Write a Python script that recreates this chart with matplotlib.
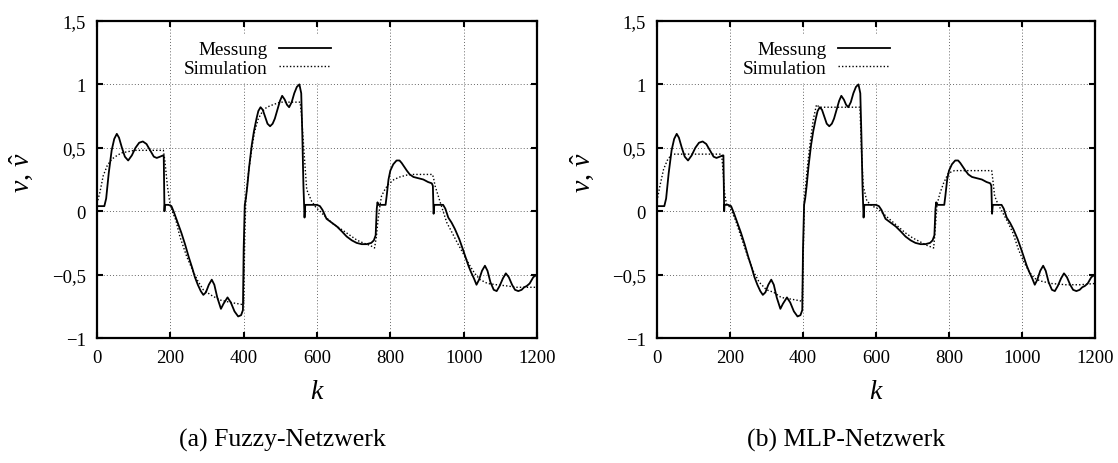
import matplotlib
matplotlib.use("Agg")
import matplotlib.pyplot as plt

plt.rcParams['font.family'] = ['Liberation Serif', 'DejaVu Serif']
plt.rcParams['mathtext.fontset'] = 'custom'
plt.rcParams['mathtext.rm'] = 'Liberation Serif'
plt.rcParams['mathtext.it'] = 'Liberation Serif:italic'

# ---------------- data ----------------
k_meas = [0, 20, 25, 32, 40, 47, 54, 60, 68, 76, 85, 95, 105, 115, 125, 135, 145, 155, 163, 172,
          180, 182, 184, 185, 195, 203, 210, 220, 230, 240, 250, 260, 267, 275, 283, 290, 297, 305,
          313, 320, 328, 338, 345, 356, 365, 375, 385, 393, 398, 400, 403, 406, 410, 415, 422, 428,
          435, 440, 446, 452, 458, 465, 472, 479, 485, 492, 499, 505, 512, 518, 524, 531, 538, 545,
          552, 557, 560, 563, 566, 568, 600, 608, 615, 626, 640, 654, 668, 681, 695, 708, 722, 735,
          748, 755, 760, 763, 765, 767, 787, 790, 795, 800, 808, 817, 825, 831, 838, 845, 853, 863,
          877, 890, 903, 913, 916, 918, 920, 944, 950, 958, 967, 976, 988, 999, 1006, 1013, 1020,
          1028, 1035, 1042, 1050, 1058, 1065, 1073, 1082, 1090, 1098, 1107, 1115, 1123, 1132, 1140,
          1149, 1158, 1165, 1172, 1180, 1190, 1200]
v_meas = [0.04, 0.04, 0.10, 0.30, 0.48, 0.57, 0.61, 0.58, 0.50, 0.43, 0.40, 0.44, 0.50, 0.54, 0.55,
          0.53, 0.48, 0.43, 0.42, 0.43, 0.44, 0.44, 0.0, 0.05, 0.05, 0.04, -0.01, -0.09, -0.17, -0.26,
          -0.36, -0.45, -0.52, -0.58, -0.63, -0.66, -0.64, -0.58, -0.54, -0.58, -0.68, -0.77, -0.73,
          -0.68, -0.72, -0.79, -0.83, -0.82, -0.78, -0.30, 0.05, 0.10, 0.20, 0.35, 0.52, 0.63, 0.73,
          0.79, 0.82, 0.80, 0.75, 0.69, 0.67, 0.69, 0.73, 0.80, 0.87, 0.91, 0.88, 0.84, 0.82, 0.86,
          0.93, 0.98, 1.0, 0.93, 0.60, 0.20, -0.05, 0.05, 0.05, 0.04, 0.01, -0.06, -0.09, -0.12,
          -0.16, -0.20, -0.23, -0.25, -0.26, -0.26, -0.25, -0.23, -0.19, 0.02, 0.07, 0.05, 0.05,
          0.12, 0.25, 0.32, 0.37, 0.40, 0.40, 0.38, 0.35, 0.32, 0.29, 0.27, 0.26, 0.25, 0.23, 0.22,
          0.20, -0.02, 0.05, 0.05, 0.02, -0.05, -0.09, -0.14, -0.22, -0.31, -0.37, -0.43, -0.48,
          -0.53, -0.58, -0.54, -0.47, -0.43, -0.47, -0.56, -0.62, -0.63, -0.59, -0.53, -0.49, -0.52,
          -0.58, -0.62, -0.63, -0.62, -0.60, -0.59, -0.57, -0.52, -0.50]

k_fuzzy = [0, 8, 17, 28, 40, 55, 67, 85, 103, 181, 185, 192, 199, 205, 215, 226, 245, 263, 275,
           290, 310, 335, 365, 395, 400, 403, 406, 412, 422, 430, 440, 452, 463, 480, 500, 554,
           558, 565, 572, 585, 597, 608, 625, 644, 665, 690, 710, 726, 745, 757, 762, 766, 772,
           776, 785, 794, 810, 826, 845, 863, 915, 918, 922, 935, 945, 954, 965, 981, 1000, 1017,
           1030, 1045, 1065, 1090, 1120, 1144, 1170, 1200]
v_fuzzy = [0.06, 0.15, 0.28, 0.36, 0.41, 0.44, 0.46, 0.47, 0.48, 0.48, 0.40, 0.20, 0.06, 0.0,
           -0.07, -0.20, -0.36, -0.48, -0.55, -0.62, -0.66, -0.70, -0.72, -0.735, -0.72, -0.20,
           0.10, 0.28, 0.49, 0.63, 0.73, 0.79, 0.82, 0.84, 0.86, 0.86, 0.75, 0.45, 0.17, 0.08,
           0.03, 0.0, -0.05, -0.10, -0.14, -0.19, -0.23, -0.25, -0.27, -0.29, -0.20, -0.08, 0.05,
           0.12, 0.17, 0.21, 0.25, 0.27, 0.285, 0.29, 0.29, 0.26, 0.20, 0.08, -0.01, -0.09, -0.15,
           -0.24, -0.34, -0.43, -0.49, -0.54, -0.57, -0.58, -0.59, -0.60, -0.60, -0.60]

k_mlp = [0, 8, 18, 28, 40, 177, 180, 185, 190, 200, 215, 230, 250, 265, 280, 300, 320, 340, 360,
         380, 398, 401, 404, 412, 420, 428, 437, 445, 556, 560, 565, 575, 590, 605, 620, 640, 660,
         680, 700, 720, 740, 758, 762, 767, 775, 785, 798, 815, 917, 920, 925, 935, 945, 960, 975,
         990, 1005, 1020, 1035, 1050, 1080, 1120, 1160, 1200]
v_mlp = [0.08, 0.20, 0.33, 0.40, 0.45, 0.45, 0.35, 0.15, 0.06, 0.03, -0.07, -0.20, -0.37, -0.48,
         -0.56, -0.62, -0.64, -0.68, -0.69, -0.70, -0.71, -0.30, 0.10, 0.35, 0.55, 0.72, 0.84,
         0.82, 0.82, 0.50, 0.20, 0.08, 0.04, 0.02, -0.02, -0.07, -0.12, -0.17, -0.21, -0.24,
         -0.27, -0.29, -0.15, 0.05, 0.14, 0.22, 0.30, 0.32, 0.32, 0.25, 0.12, 0.05, 0.0, -0.08,
         -0.17, -0.30, -0.40, -0.48, -0.53, -0.55, -0.57, -0.58, -0.58, -0.57]

x_ticks = [0, 200, 400, 600, 800, 1000, 1200]
x_tick_labels = ['0', '200', '400', '600', '800', '1000', '1200']
y_ticks = [-1, -0.5, 0, 0.5, 1, 1.5]
y_tick_labels = ['\u22121', '\u22120,5', '0', '0,5', '1', '1,5']
series_labels = ['Messung', 'Simulation']
captions = ['(a) Fuzzy-Netzwerk', '(b) MLP-Netzwerk']

# ---------------- figure ----------------
W, H = 1118, 464
fig = plt.figure(figsize=(W / 100, H / 100), dpi=100)

axes_px = [(97, 537), (657, 1095)]
top_px, bot_px = 22, 339
caption_x = [282, 846]
sims = [(k_fuzzy, v_fuzzy), (k_mlp, v_mlp)]

for i, ((x0, x1), (ks, vs)) in enumerate(zip(axes_px, sims)):
    ax = fig.add_axes([x0 / W, 1 - bot_px / H, (x1 - x0) / W, (bot_px - top_px) / H])
    ax.plot(k_meas, v_meas, color='black', lw=1.3, solid_joinstyle='round',
            label=series_labels[0])
    ax.plot(ks, vs, color='black', lw=1.0, linestyle=(0, (1, 1.5)),
            label=series_labels[1])
    ax.set_xlim(0, 1200)
    ax.set_ylim(-1, 1.5)
    ax.set_xticks(x_ticks, x_tick_labels)
    ax.set_yticks(y_ticks, y_tick_labels)
    ax.grid(True, color='0.4', linestyle=(0, (1, 2.2)), linewidth=0.7)
    ax.set_axisbelow(True)
    for s in ax.spines.values():
        s.set_linewidth(1.6)
    ax.tick_params(direction='in', length=4, width=1.5, top=True, right=True,
                   labelsize=13.5, colors='black')
    ax.tick_params(axis='x', pad=8)
    ax.tick_params(axis='y', pad=8)
    ax.set_xlabel('$k$', fontsize=20, labelpad=9)
    ax.set_ylabel(r'$v$, $\hat{v}$', fontsize=20)
    ax.yaxis.set_label_coords(-0.14, 0.525)
    leg = ax.legend(loc='upper right', bbox_to_anchor=(0.545, 0.955), markerfirst=False,
                    frameon=True, fancybox=False, framealpha=1.0, edgecolor='none',
                    facecolor='white', fontsize=13.8, handlelength=2.7, handletextpad=0.6,
                    labelspacing=0.05, borderpad=0.3, borderaxespad=0.0)
    for t in leg.get_texts():
        t.set_ha('right')
    fig.text(caption_x[i] / W, 1 - 440 / H, captions[i], ha='center', va='center',
             fontsize=18.5)

fig.savefig('out.png', dpi=100)
